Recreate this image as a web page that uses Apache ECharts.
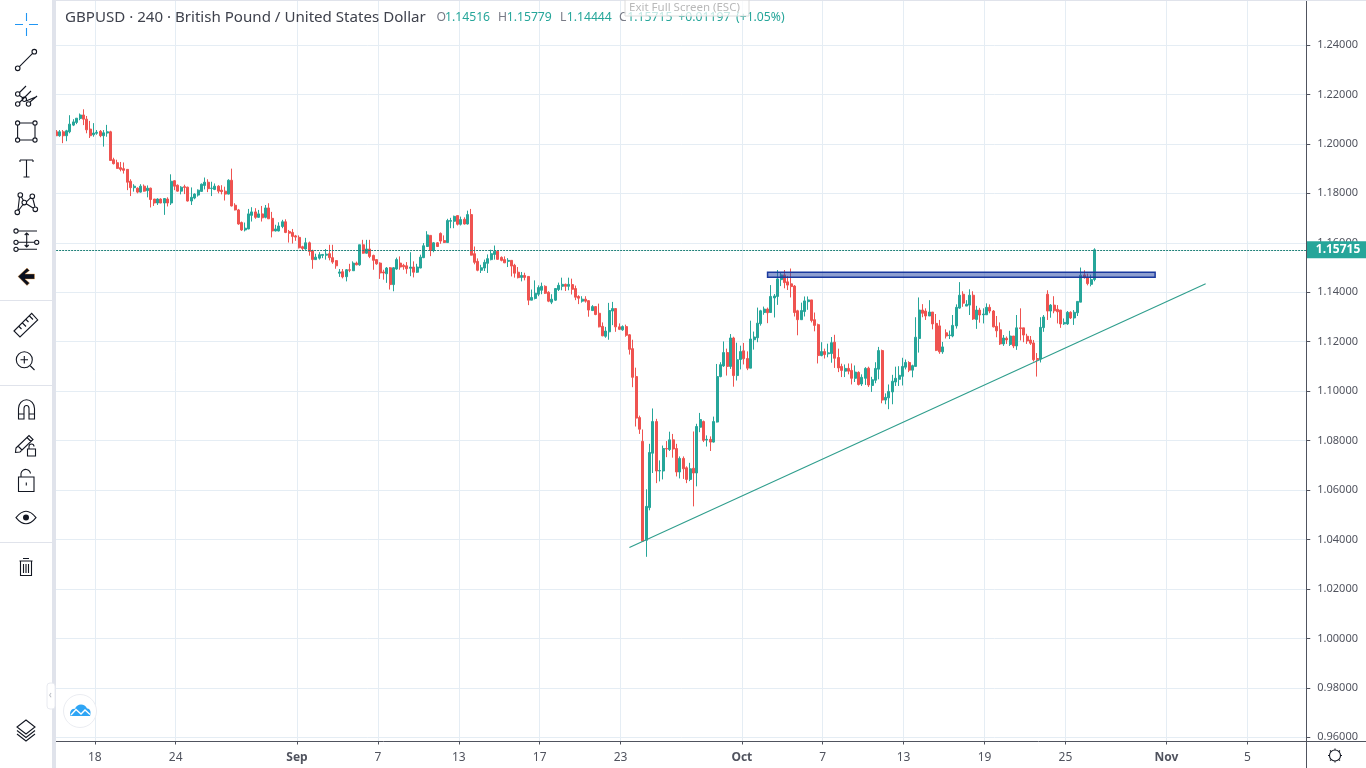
<!DOCTYPE html>
<html><head><meta charset="utf-8"><style>html,body{margin:0;padding:0;background:#fff;overflow:hidden}#c{width:1366px;height:768px}</style>
<script src="https://cdn.jsdelivr.net/npm/echarts@6/dist/echarts.min.js"></script></head><body><div id="c"></div>
<script>
const opens=[1.2049,1.2033,1.2049,1.2033,1.2049,1.2076,1.2087,1.2103,1.2117,1.2100,
1.2060,1.2037,1.2043,1.2051,1.2033,1.2044,1.2049,1.1936,1.1924,1.1904,
1.1900,1.1897,1.1849,1.1823,1.1821,1.1805,1.1829,1.1811,1.1821,1.1777,
1.1761,1.1777,1.1761,1.1777,1.1761,1.1851,1.1833,1.1809,1.1827,1.1825,
1.1769,1.1781,1.1793,1.1808,1.1832,1.1845,1.1820,1.1816,1.1829,1.1813,
1.1809,1.1797,1.1853,1.1752,1.1733,1.1682,1.1652,1.1656,1.1711,1.1725,
1.1703,1.1717,1.1703,1.1741,1.1699,1.1648,1.1648,1.1666,1.1685,1.1646,
1.1642,1.1628,1.1622,1.1584,1.1575,1.1600,1.1568,1.1532,1.1538,1.1549,
1.1550,1.1556,1.1540,1.1528,1.1477,1.1483,1.1463,1.1491,1.1487,1.1518,
1.1511,1.1592,1.1558,1.1575,1.1549,1.1532,1.1518,1.1482,1.1475,1.1499,
1.1431,1.1494,1.1518,1.1509,1.1507,1.1497,1.1502,1.1481,1.1498,1.1540,
1.1585,1.1630,1.1569,1.1600,1.1638,1.1609,1.1601,1.1687,1.1687,1.1710,
1.1675,1.1695,1.1676,1.1714,1.1556,1.1525,1.1489,1.1498,1.1517,1.1532,
1.1553,1.1566,1.1541,1.1532,1.1525,1.1529,1.1509,1.1481,1.1460,1.1468,
1.1464,1.1368,1.1375,1.1392,1.1408,1.1424,1.1400,1.1360,1.1368,1.1411,
1.1424,1.1432,1.1424,1.1431,1.1415,1.1383,1.1364,1.1372,1.1366,1.1326,
1.1342,1.1315,1.1262,1.1222,1.1240,1.1324,1.1334,1.1260,1.1248,1.1261,
1.1228,1.1172,1.1059,1.0893,1.0797,1.0397,1.0529,1.0749,1.0877,1.0677,
1.0677,1.0768,1.0764,1.0803,1.0768,1.0673,1.0728,1.0690,1.0643,1.0688,
1.0669,1.0854,1.0877,1.0802,1.0805,1.0794,1.0875,1.1059,1.1102,1.1156,
1.1100,1.1215,1.1063,1.1128,1.1163,1.1132,1.1093,1.1208,1.1216,1.1273,
1.1318,1.1332,1.1318,1.1377,1.1383,1.1451,1.1470,1.1442,1.1434,1.1425,
1.1325,1.1289,1.1322,1.1362,1.1369,1.1289,1.1269,1.1144,1.1160,1.1151,
1.1152,1.1198,1.1136,1.1100,1.1081,1.1092,1.1084,1.1052,1.1076,1.1029,
1.1052,1.1093,1.1023,1.1044,1.1089,1.1164,1.0964,1.0973,1.0997,1.1037,
1.1048,1.1060,1.1097,1.1116,1.1085,1.1100,1.1213,1.1328,1.1324,1.1304,
1.1320,1.1274,1.1264,1.1159,1.1236,1.1225,1.1223,1.1264,1.1336,1.1392,
1.1344,1.1348,1.1388,1.1290,1.1328,1.1309,1.1309,1.1339,1.1324,1.1262,
1.1248,1.1191,1.1214,1.1189,1.1223,1.1183,1.1256,1.1256,1.1222,1.1207,
1.1195,1.1132,1.1130,1.1257,1.1392,1.1324,1.1348,1.1331,1.1328,1.1272,
1.1272,1.1319,1.1296,1.1317,1.1360,1.1470,1.1459,1.1432,1.14516];
const closes=[1.2033,1.2049,1.2033,1.2053,1.2080,1.2089,1.2104,1.2117,1.2100,1.2057,
1.2033,1.2044,1.2047,1.2033,1.2045,1.2049,1.1933,1.1920,1.1901,1.1897,
1.1893,1.1845,1.1823,1.1829,1.1805,1.1829,1.1809,1.1821,1.1775,1.1761,
1.1777,1.1761,1.1779,1.1761,1.1849,1.1829,1.1809,1.1825,1.1824,1.1769,
1.1784,1.1797,1.1813,1.1837,1.1845,1.1819,1.1821,1.1829,1.1809,1.1807,
1.1797,1.1853,1.1749,1.1733,1.1676,1.1652,1.1659,1.1717,1.1725,1.1703,
1.1717,1.1701,1.1741,1.1697,1.1648,1.1656,1.1668,1.1685,1.1642,1.1639,
1.1626,1.1623,1.1580,1.1577,1.1600,1.1565,1.1532,1.1542,1.1552,1.1553,
1.1554,1.1540,1.1522,1.1507,1.1482,1.1462,1.1491,1.1489,1.1518,1.1511,
1.1592,1.1558,1.1575,1.1545,1.1529,1.1515,1.1478,1.1478,1.1498,1.1431,
1.1499,1.1532,1.1502,1.1503,1.1495,1.1502,1.1481,1.1502,1.1542,1.1588,
1.1632,1.1569,1.1600,1.1585,1.1607,1.1601,1.1690,1.1690,1.1707,1.1675,
1.1694,1.1676,1.1714,1.1550,1.1521,1.1489,1.1499,1.1521,1.1536,1.1556,
1.1566,1.1533,1.1529,1.1519,1.1529,1.1506,1.1477,1.1459,1.1468,1.1460,
1.1368,1.1379,1.1396,1.1419,1.1424,1.1396,1.1364,1.1372,1.1415,1.1428,
1.1432,1.1424,1.1432,1.1412,1.1380,1.1376,1.1372,1.1364,1.1328,1.1342,
1.1310,1.1260,1.1224,1.1243,1.1326,1.1334,1.1260,1.1250,1.1261,1.1226,
1.1169,1.1056,1.0891,1.0846,1.0393,1.0534,1.0752,1.0877,1.0677,1.0679,
1.0768,1.0766,1.0803,1.0766,1.0673,1.0728,1.0686,1.0643,1.0686,1.0669,
1.0857,1.0885,1.0801,1.0805,1.0794,1.0877,1.1059,1.1107,1.1156,1.1100,
1.1215,1.1063,1.1127,1.1160,1.1131,1.1093,1.1211,1.1219,1.1275,1.1325,
1.1332,1.1317,1.1383,1.1385,1.1454,1.1470,1.1439,1.1429,1.1423,1.1318,
1.1289,1.1326,1.1365,1.1369,1.1286,1.1266,1.1144,1.1160,1.1148,1.1155,
1.1196,1.1133,1.1094,1.1084,1.1092,1.1081,1.1052,1.1077,1.1027,1.1056,
1.1092,1.1025,1.1046,1.1092,1.1164,1.0964,1.0975,1.0999,1.1040,1.1052,
1.1064,1.1100,1.1116,1.1085,1.1103,1.1218,1.1328,1.1315,1.1304,1.1320,
1.1272,1.1165,1.1159,1.1179,1.1223,1.1227,1.1266,1.1339,1.1388,1.1356,
1.1351,1.1388,1.1292,1.1328,1.1308,1.1312,1.1339,1.1324,1.1260,1.1244,
1.1191,1.1215,1.1207,1.1223,1.1183,1.1256,1.1253,1.1227,1.1203,1.1194,
1.1127,1.1127,1.1258,1.1300,1.1324,1.1348,1.1325,1.1321,1.1272,1.1278,
1.1319,1.1296,1.1319,1.1363,1.1469,1.1459,1.1435,1.1451,1.15715];
const highs=[1.2056,1.2056,1.2056,1.2057,1.2116,1.2100,1.2104,1.2123,1.2140,1.2113,
1.2093,1.2084,1.2056,1.2056,1.2056,1.2077,1.2053,1.1944,1.1936,1.1927,
1.1925,1.1897,1.1857,1.1837,1.1824,1.1837,1.1836,1.1832,1.1823,1.1777,
1.1780,1.1780,1.1780,1.1784,1.1877,1.1853,1.1836,1.1829,1.1835,1.1827,
1.1824,1.1800,1.1816,1.1840,1.1864,1.1857,1.1847,1.1840,1.1833,1.1833,
1.1827,1.1857,1.1900,1.1760,1.1737,1.1686,1.1682,1.1737,1.1744,1.1740,
1.1733,1.1749,1.1753,1.1760,1.1725,1.1673,1.1683,1.1693,1.1695,1.1652,
1.1656,1.1632,1.1630,1.1588,1.1620,1.1605,1.1572,1.1556,1.1562,1.1554,
1.1575,1.1592,1.1592,1.1529,1.1494,1.1494,1.1494,1.1515,1.1525,1.1524,
1.1592,1.1612,1.1612,1.1612,1.1552,1.1534,1.1521,1.1491,1.1502,1.1502,
1.1502,1.1540,1.1545,1.1515,1.1522,1.1562,1.1525,1.1515,1.1552,1.1599,
1.1647,1.1630,1.1603,1.1603,1.1642,1.1630,1.1697,1.1701,1.1710,1.1710,
1.1706,1.1703,1.1730,1.1737,1.1585,1.1537,1.1511,1.1532,1.1553,1.1572,
1.1589,1.1569,1.1545,1.1545,1.1538,1.1529,1.1515,1.1502,1.1482,1.1479,
1.1464,1.1411,1.1448,1.1428,1.1439,1.1428,1.1404,1.1392,1.1417,1.1439,
1.1459,1.1435,1.1459,1.1455,1.1427,1.1388,1.1384,1.1384,1.1368,1.1348,
1.1344,1.1354,1.1278,1.1260,1.1357,1.1361,1.1334,1.1274,1.1266,1.1269,
1.1231,1.1208,1.1095,1.0901,1.0845,1.0603,1.0787,1.0930,1.0888,1.0720,
1.0780,1.0798,1.0836,1.0827,1.0787,1.0736,1.0736,1.0696,1.0710,1.0837,
1.0868,1.0912,1.0881,1.0821,1.0817,1.0897,1.1110,1.1117,1.1201,1.1172,
1.1231,1.1220,1.1196,1.1184,1.1195,1.1161,1.1285,1.1241,1.1338,1.1329,
1.1342,1.1338,1.1429,1.1393,1.1490,1.1480,1.1490,1.1466,1.1496,1.1429,
1.1329,1.1358,1.1383,1.1383,1.1369,1.1318,1.1273,1.1198,1.1172,1.1192,
1.1219,1.1228,1.1172,1.1111,1.1108,1.1112,1.1112,1.1104,1.1080,1.1068,
1.1097,1.1099,1.1058,1.1117,1.1179,1.1168,1.0991,1.1027,1.1066,1.1099,
1.1101,1.1135,1.1128,1.1121,1.1107,1.1299,1.1379,1.1352,1.1335,1.1368,
1.1320,1.1312,1.1288,1.1199,1.1250,1.1245,1.1308,1.1351,1.1441,1.1404,
1.1368,1.1412,1.1404,1.1345,1.1337,1.1335,1.1355,1.1351,1.1328,1.1304,
1.1278,1.1227,1.1221,1.1244,1.1223,1.1308,1.1335,1.1256,1.1232,1.1223,
1.1207,1.1154,1.1299,1.1308,1.1408,1.1352,1.1384,1.1348,1.1328,1.1294,
1.1324,1.1323,1.1328,1.1364,1.1500,1.1489,1.1475,1.1471,1.15779];
const lows=[1.2033,1.2029,1.2003,1.2011,1.2043,1.2072,1.2080,1.2096,1.2076,1.2043,
1.2024,1.2029,1.2037,1.2027,1.1989,1.2029,1.1933,1.1917,1.1900,1.1889,
1.1880,1.1813,1.1789,1.1807,1.1800,1.1803,1.1807,1.1784,1.1743,1.1749,
1.1753,1.1760,1.1713,1.1747,1.1753,1.1813,1.1807,1.1796,1.1797,1.1767,
1.1753,1.1776,1.1787,1.1807,1.1816,1.1805,1.1789,1.1813,1.1800,1.1796,
1.1771,1.1796,1.1747,1.1731,1.1673,1.1648,1.1646,1.1655,1.1686,1.1697,
1.1701,1.1686,1.1699,1.1697,1.1622,1.1646,1.1646,1.1659,1.1639,1.1601,
1.1597,1.1608,1.1577,1.1569,1.1572,1.1548,1.1495,1.1532,1.1532,1.1538,
1.1532,1.1529,1.1515,1.1495,1.1462,1.1456,1.1444,1.1481,1.1487,1.1509,
1.1507,1.1556,1.1556,1.1538,1.1491,1.1511,1.1454,1.1451,1.1438,1.1411,
1.1404,1.1491,1.1491,1.1491,1.1475,1.1465,1.1460,1.1478,1.1497,1.1538,
1.1583,1.1546,1.1562,1.1583,1.1596,1.1599,1.1601,1.1659,1.1659,1.1670,
1.1670,1.1674,1.1674,1.1549,1.1513,1.1485,1.1478,1.1486,1.1478,1.1529,
1.1532,1.1532,1.1525,1.1518,1.1502,1.1464,1.1459,1.1456,1.1444,1.1448,
1.1348,1.1368,1.1371,1.1384,1.1392,1.1393,1.1360,1.1352,1.1365,1.1405,
1.1408,1.1405,1.1408,1.1391,1.1368,1.1352,1.1358,1.1358,1.1301,1.1324,
1.1307,1.1258,1.1222,1.1216,1.1208,1.1267,1.1240,1.1247,1.1244,1.1220,
1.1148,1.1016,1.0857,1.0827,1.0390,1.0330,1.0518,1.0669,1.0628,1.0635,
1.0643,1.0733,1.0758,1.0731,1.0655,1.0647,1.0645,1.0628,1.0636,1.0534,
1.0615,1.0834,1.0794,1.0776,1.0758,1.0792,1.0873,1.1056,1.1098,1.1063,
1.1090,1.1018,1.1043,1.1088,1.1108,1.1085,1.1093,1.1168,1.1198,1.1265,
1.1309,1.1275,1.1318,1.1298,1.1349,1.1425,1.1416,1.1409,1.1379,1.1302,
1.1226,1.1289,1.1302,1.1329,1.1278,1.1242,1.1112,1.1141,1.1132,1.1137,
1.1115,1.1094,1.1077,1.1057,1.1057,1.1068,1.1027,1.1037,1.1023,1.1021,
1.1025,1.1017,1.0997,1.1032,1.1048,1.0951,1.0947,1.0927,1.0947,1.1021,
1.1021,1.1023,1.1088,1.1077,1.1056,1.1100,1.1156,1.1299,1.1288,1.1304,
1.1250,1.1162,1.1151,1.1151,1.1213,1.1211,1.1218,1.1253,1.1333,1.1341,
1.1344,1.1308,1.1288,1.1252,1.1277,1.1274,1.1308,1.1315,1.1258,1.1218,
1.1187,1.1183,1.1191,1.1183,1.1174,1.1167,1.1205,1.1198,1.1191,1.1187,
1.1120,1.1059,1.1116,1.1240,1.1288,1.1297,1.1315,1.1274,1.1256,1.1268,
1.1268,1.1292,1.1268,1.1304,1.1360,1.1455,1.1428,1.1424,1.14444];
const tickIndex=[11,35,71,95,119,143,167,203,227,251,275,299,329,353];
const tickLabels=['18','24','Sep','7','13','17','23','Oct','7','13','19','25','Nov','5'];
const monthLabels=['Sep','Oct','Nov'];
const priceTicks=[0.96,0.98,1.00,1.02,1.04,1.06,1.08,1.10,1.12,1.14,1.16,1.18,1.20,1.22,1.24];
const lastPrice=1.15715;
const trendIndex=[170,341];
const trendPrice=[1.0368,1.1434];
const zoneIndex=[211,326];
const zonePrice=[1.14808,1.14606];

const UP='#26a69a',DOWN='#ef5350',GRID='#e5edf4',AX='#50535e',INK='#131722',FONT='"Noto Sans",sans-serif';
const TOTAL=373; // one blank slot before the first bar, empty slots after the last
const cats=new Array(TOTAL).fill('');
tickIndex.forEach((t,k)=>{cats[t+1]=tickLabels[k]});
const isTick=(i)=>cats[i]!=='';
const rows=[['-','-','-','-']].concat(opens.map((o,i)=>[o,closes[i],lows[i],highs[i]]));
const yMin=0.9583,yMax=1.2578;

let shapeNo=0;
const pathType=(d)=>{const n='iconShape'+(++shapeNo);echarts.graphic.registerShape(n,echarts.graphic.extendPath(d,{}));return n};
const circ=(x,y,r)=>`M${x-r} ${y}a${r} ${r} 0 1 0 ${2*r} 0a${r} ${r} 0 1 0 ${-2*r} 0`;
const icon=(d,extra)=>Object.assign({type:pathType(d),z:102,silent:true,style:{fill:'none',stroke:INK,lineWidth:1.1}},extra||{});
const line=(x1,y1,x2,y2,c,w,z)=>({type:'line',z:z||103,silent:true,shape:{x1,y1,x2,y2},style:{stroke:c,lineWidth:w||1}});
const txt=(x,y,t,fill,size,extra)=>({type:'text',z:105,silent:true,x,y,style:Object.assign({text:t,fill,font:`${size}px ${FONT}`,verticalAlign:'middle'},extra||{})});

const graphics=[
 {type:'rect',z:100,silent:true,shape:{x:0,y:0,width:52,height:768},style:{fill:'#fff'}},
 {type:'rect',z:101,silent:true,shape:{x:52,y:0,width:4,height:768},style:{fill:'#e0e3eb'}},
 {type:'rect',z:101,silent:true,shape:{x:52,y:0,width:1314,height:1},style:{fill:'#e0e3eb'}},
 line(0,300.5,52,300.5,'#e0e3eb'),line(0,385.5,52,385.5,'#e0e3eb'),line(0,542.5,52,542.5,'#e0e3eb'),
 // axis frame extensions
 line(1306.5,0,1306.5,768,AX,1,50),line(56,741.5,1366,741.5,AX,1,50),
 // crosshair
 icon('M15 24.5H23M29 24.5H38M26.5 13V21M26.5 28V36',{style:{fill:'none',stroke:'#2196f3',lineWidth:1.1}}),
 // trend line tool
 icon(circ(17.7,68.3,2.3)+circ(34.3,51.7,2.3)+'M19.4 66.6L32.6 53.4'),
 // fork tool
 icon(circ(17.7,104,2.2)+circ(28.5,104,2.2)+circ(17.7,94,2.2)+circ(24.3,99.3,2.2)+'M19.5 92.5L26 86M26 101L37 96.5M19.5 102.5L31 91M30 102L37 96M19.5 95.5L23 98',{}),
 // rectangle tool
 icon('M19.5 123H33M19.5 140H33M17.6 125V138M35 125V138'+circ(17.6,123,2.1)+circ(35,123,2.1)+circ(17.6,140,2.1)+circ(35,140,2.1)),
 // text tool
 icon('M20 160H33M20 160V162M33 160V162M26.5 160V177M23.5 177H29.5'),
 // pattern tool
 icon(circ(20.3,195,2.3)+circ(32.3,196.3,2.3)+circ(17.3,212.3,2.3)+circ(24.3,202.6,2.3)+circ(35.3,209.3,2.3)+'M19.5 197L18 210M21.4 197L23.4 200.6M23 204.5L18.5 210.5M26.4 201.8L30.5 197.8M26.3 203.7L33.4 208.2M32.8 198.5L35 207'),
 // long position tool
 icon(circ(16,231,2.1)+circ(16,242.3,2.1)+circ(16,249.3,2.1)+circ(36.7,242.3,2.1)+'M18 231H37M18 242.3H34.6M18 249.3H37M26.7 233V247M24.7 235L26.7 233L28.7 235M24.7 245L26.7 247L28.7 245'),
 // back arrow
 {type:pathType('M18 276.5L27 268L29.5 270.5L25 274H34.5V279H25L29.5 283L27 285.5Z'),z:102,silent:true,style:{fill:'#0a0f1e',stroke:'#f59a2f',lineWidth:0.4}},
 // ruler
 icon('M14 331L31.7 313.4L37.7 320L20 337ZM19 326.5L21.5 329M22.5 323L26 326.5M26 319.5L28.5 322M29.5 316L33 319.5'),
 // zoom
 icon(circ(24.3,359.7,8)+'M30 365.5L34.5 370M20.5 359.7H28M24.3 356V363.5'),
 // magnet
 icon('M18.5 419V408.5A7.8 8.5 0 0 1 34.5 408.5V419H29V408.5A2.5 3 0 0 0 24 408.5V419ZM18.5 414H24M29 414H34.5'),
 // pencil lock
 icon('M16 448L29 435.5L33 439.5L20 452L15.5 452.5ZM27 437.5L31 441.5M18 446L22 450'+'M27.5 449H35.5V456H27.5ZM29 449V446.5A2.5 2.5 0 0 1 34 446.5'),
 // lock
 icon('M18.5 477H34V491.5H18.5ZM21 477V473.5A4.8 4.8 0 0 1 30.5 473.5M26.3 482.5V485.5'),
 // eye
 icon('M16 517.6Q26 505 36 517.6Q26 530 16 517.6Z'),
 {type:'circle',z:102,silent:true,shape:{cx:26,cy:517.6,r:3},style:{fill:INK}},
 // trash
 icon('M19.5 561H32.5M23 558.5H29M20.5 561V575.5H31.5V561M23.5 564V573M26 564V573M28.5 564V573'),
 // layers
 icon('M26 720L35 727L26 734L17 727ZM17 730.5L26 737.5L35 730.5M17 734L26 741L35 734'),
 // gear
 icon(circ(1335,755.5,5.5)+'M1335 748.5V750M1335 761V762.5M1328 755.5H1329.5M1340.5 755.5H1342M1330 750.5L1331 751.5M1339 759.5L1340 760.5M1340 750.5L1339 751.5M1331 759.5L1330 760.5'),
 // collapse tab
 {type:'rect',z:103,silent:true,shape:{x:47,y:683,width:8,height:26,r:3},style:{fill:'#fff',stroke:'#e8eaf0',lineWidth:1}},
 txt(48.8,695.5,'‹','#b2b5be',10),
 // logo
 {type:'circle',z:103,silent:true,shape:{cx:80,cy:711,r:16.5},style:{fill:'#fff',stroke:'#ebedf2',lineWidth:1}},
 {type:pathType('M70.5 716C69 712 72 708 75 709C76.5 703 85 703 87 708.5C90 708 91.5 712 90 716Z'),z:104,silent:true,style:{fill:'#2ea5f5'}},
 {type:pathType('M71 715L76 709.5L81 714L85 710L90 714.5'),z:104,silent:true,style:{fill:'none',stroke:'#fff',lineWidth:1.4}},
 // title
 txt(65,17.5,'GBPUSD · 240 · British Pound / United States Dollar','#3f424d',15.1),
 txt(436.5,18,'O','#787b86',12.2),txt(445,18,'1.14516',UP,12.2),
 txt(498,18,'H','#787b86',12.2),txt(506.7,18,'1.15779',UP,12.2),
 txt(560,18,'L','#787b86',12.2),txt(566.7,18,'1.14444',UP,12.2),
 txt(619,18,'C','#787b86',12.2),txt(627.3,18,'1.15715',UP,12.2),
 txt(678.3,18,'+0.01197',UP,12.2),txt(736,18,'(+1.05%)',UP,12.2),
 // full-screen hint
 {type:'rect',z:106,silent:true,shape:{x:625,y:0,width:124,height:16},style:{fill:'rgba(255,255,255,0.72)',stroke:'#dcdcdc',lineWidth:1}},
 Object.assign(txt(629,8,'Exit Full Screen (ESC)','#b9b9b9',11.5),{z:107})
];

const chart=echarts.init(document.getElementById('c'),null,{renderer:'canvas'});
chart.setOption({
 animation:false,backgroundColor:'#fff',
 textStyle:{fontFamily:FONT},
 grid:[
  {left:53.13,top:1,width:1253.64,height:740.5},
  {left:54.38,top:1,width:1253.64,height:740.5}
 ],
 xAxis:[
  {type:'category',gridIndex:0,data:cats,boundaryGap:false,show:false},
  {type:'category',gridIndex:1,data:cats,boundaryGap:false,
   axisLine:{show:false},
   axisTick:{show:true,length:3,interval:isTick,alignWithLabel:true,lineStyle:{color:AX}},
   splitLine:{show:true,interval:isTick,lineStyle:{color:GRID,width:1}},
   axisLabel:{show:true,interval:isTick,margin:10,color:AX,fontSize:12,hideOverlap:false,
    formatter:v=>monthLabels.includes(v)?`{m|${v}}`:v,rich:{m:{fontWeight:'bold',color:AX,fontSize:12}}}}
 ],
 yAxis:[
  {type:'value',gridIndex:0,min:yMin,max:yMax,show:false,scale:true},
  {type:'value',gridIndex:1,min:yMin,max:yMax,position:'right',offset:-1.75,scale:true,
   axisLine:{show:false},
   axisTick:{show:true,length:4,customValues:priceTicks,lineStyle:{color:AX}},
   splitLine:{show:true,lineStyle:{color:GRID,width:1}},
   axisLabel:{color:AX,fontSize:11,margin:11,padding:[2,0,0,0],customValues:priceTicks,formatter:v=>v.toFixed(5)}}
 ],
 series:[
  {type:'candlestick',xAxisIndex:0,yAxisIndex:0,data:rows,barWidth:2.5,clip:false,z:3,
   itemStyle:{color:UP,color0:DOWN,borderColor:UP,borderColor0:DOWN,borderWidth:1},
   markLine:{silent:true,symbol:'none',animation:false,precision:5,
    lineStyle:{color:'#1f8078',type:[2,1],width:1},
    label:{show:true,position:'end',distance:0,formatter:()=>lastPrice.toFixed(5),color:'#fff',fontWeight:'bold',fontSize:12,
     backgroundColor:UP,padding:[3,9,2,9]},
    data:[{yAxis:lastPrice}]}},
  {type:'line',xAxisIndex:0,yAxisIndex:0,z:5,symbol:'none',silent:true,clip:false,
   data:trendIndex.map((t,k)=>[t+1,trendPrice[k]]),lineStyle:{color:'#2f9e8d',width:1.1},
   markArea:{silent:true,z:6,itemStyle:{color:'rgba(50,80,170,0.55)',borderColor:'#1b3a9e',borderWidth:1.5},
    data:[[{xAxis:zoneIndex[0]+1,yAxis:zonePrice[0]},{xAxis:zoneIndex[1]+1,yAxis:zonePrice[1]}]]}}
 ],
 graphic:{elements:graphics}
});
</script></body></html>
